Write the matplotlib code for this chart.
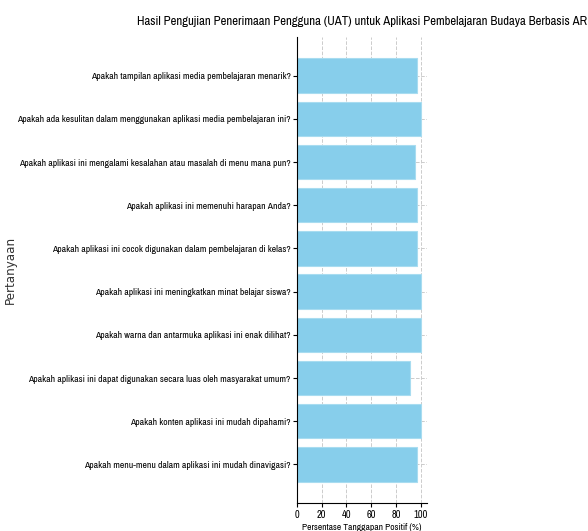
import matplotlib.pyplot as plt

questions = [
    "Apakah tampilan aplikasi media pembelajaran menarik?",
    "Apakah ada kesulitan dalam menggunakan aplikasi media pembelajaran ini?",
    "Apakah aplikasi ini mengalami kesalahan atau masalah di menu mana pun?",
    "Apakah aplikasi ini memenuhi harapan Anda?",
    "Apakah aplikasi ini cocok digunakan dalam pembelajaran di kelas?",
    "Apakah aplikasi ini meningkatkan minat belajar siswa?",
    "Apakah warna dan antarmuka aplikasi ini enak dilihat?",
    "Apakah aplikasi ini dapat digunakan secara luas oleh masyarakat umum?",
    "Apakah konten aplikasi ini mudah dipahami?",
    "Apakah menu-menu dalam aplikasi ini mudah dinavigasi?",
]
positive = [97, 100, 95, 97, 97, 100, 100, 91, 100, 97]

# narrow font to mimic the squeezed look of the original
plt.rcParams["font.family"] = ["Archivo Narrow", "DejaVu Sans"]

fig = plt.figure(figsize=(5.88, 5.31), dpi=100)
ax = fig.add_axes([0.505, 0.053, 0.221, 0.877])

ax.barh(questions, positive, color="skyblue", edgecolor="#a8dcf0", linewidth=0.8)
ax.invert_yaxis()
ax.set_xlim(0, 105)
ax.set_xticks([0, 20, 40, 60, 80, 100])
ax.grid(True, linestyle="--", color="#cccccc", linewidth=0.7)
ax.set_axisbelow(True)
ax.spines["top"].set_visible(False)
ax.spines["right"].set_visible(False)
ax.tick_params(axis="y", labelsize=6.9, length=3, pad=1.5)
ax.tick_params(axis="x", labelsize=7.5, length=3, pad=2)

ax.set_title("Hasil Pengujian Penerimaan Pengguna (UAT) untuk Aplikasi Pembelajaran Budaya Berbasis AR",
             fontsize=9.2, pad=9)
ax.set_xlabel("Persentase Tanggapan Positif (%)", fontsize=6.8, labelpad=2)
ax.set_ylabel("Pertanyaan", fontsize=8.6, family="DejaVu Sans", color="#333333")
ax.yaxis.set_label_coords(-2.155, 0.5)

fig.savefig("out.png", dpi=100)
